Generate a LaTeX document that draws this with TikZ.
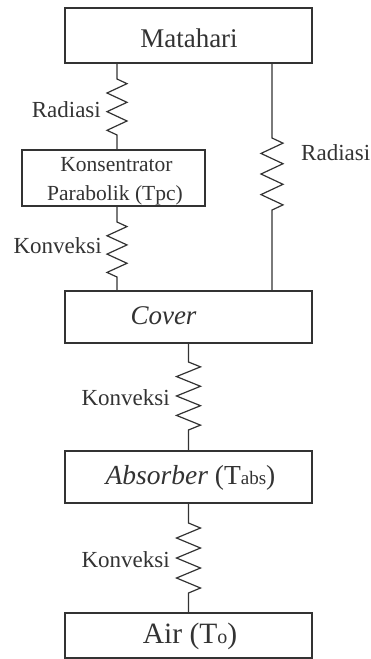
\documentclass[tikz,border=0pt]{standalone}
\usepackage{fontspec}
\setmainfont{Liberation Serif}
\definecolor{ink}{HTML}{333333}
\newcommand\zigz[3]{-- ++(#1,{#2/2}) \foreach \k in {1,...,#3}{ -- ++({ifthenelse(isodd(\k),-2,2)*#1},#2)} -- ++({ifthenelse(isodd(#3),1,-1)*#1},{#2/2})}
\begin{document}
\begin{tikzpicture}[x=1pt,y=-1pt,
  box/.style={draw=ink,line width=1.2pt,inner sep=0pt,minimum width=#1},
  box/.default=247pt,
  lbl/.style={text=ink,inner sep=0pt,font=\fontsize{23}{27}\selectfont},
  wire/.style={draw=ink,line width=1.2pt,line join=miter}]
\useasboundingbox[fill=white] (0,0) rectangle (371,659);
% boxes
\node[box, minimum height=55pt] (mat) at (188.5,35.5) {};
\node[box=183pt, minimum height=56pt] (kon) at (113.5,178) {};
\node[box, minimum height=52pt] (cov) at (188.5,317) {};
\node[box, minimum height=52pt] (abs) at (188.5,477) {};
\node[box, minimum height=45pt] (air) at (188.5,635.5) {};
% box texts
\node[lbl,anchor=base,font=\fontsize{27}{32}\selectfont] (tmat) at (189,47) {Matahari};
\node[lbl,anchor=base,font=\fontsize{21.5}{25}\selectfont] (tkon1) at (116.5,171.5) {Konsentrator};
\node[lbl,anchor=base,font=\fontsize{21.5}{25}\selectfont] (tkon2) at (115,200) {Parabolik (Tpc)};
\node[lbl,anchor=base,font=\fontsize{27}{32}\selectfont\itshape] (tcov) at (163.5,324) {Cover};
\node[lbl,anchor=base,font=\fontsize{27.5}{32}\selectfont] (tabs) at (190.5,484) {\textit{Absorber} (T{\fontsize{19}{22}\selectfont abs})};
\node[lbl,anchor=base,font=\fontsize{29.5}{34}\selectfont] (tair) at (190,643) {Air (T{\fontsize{20}{24}\selectfont o})};
% zigzag start points
\coordinate (r1) at (117,79);
\coordinate (r2) at (272,138);
\coordinate (k1) at (117,222);
\coordinate (k2) at (188.5,362);
\coordinate (k3) at (188.5,523);
% connectors
\draw[wire] (r1 |- mat.south) -- (r1) \zigz{10}{9.33}{5} -- (r1 |- kon.north);
\draw[wire] (r2 |- mat.south) -- (r2) \zigz{11}{10.29}{6} -- (r2 |- cov.north);
\draw[wire] (k1 |- kon.south) -- (k1) \zigz{10}{9.17}{5} -- (k1 |- cov.north);
\draw[wire] (k2 |- cov.south) -- (k2) \zigz{12}{9.71}{6} -- (k2 |- abs.north);
\draw[wire] (k3 |- abs.south) -- (k3) \zigz{12}{10}{6} -- (k3 |- air.north);
% labels
\node[lbl,anchor=base east] (lr1) at (101,117.5) {Radiasi};
\node[lbl,anchor=base west] (lr2) at (301,160) {Radiasi};
\node[lbl,anchor=base east] (lk1) at (102,253) {Konveksi};
\node[lbl,anchor=base east] (lk2) at (170,405) {Konveksi};
\node[lbl,anchor=base east] (lk3) at (170,567) {Konveksi};
\end{tikzpicture}
\end{document}
